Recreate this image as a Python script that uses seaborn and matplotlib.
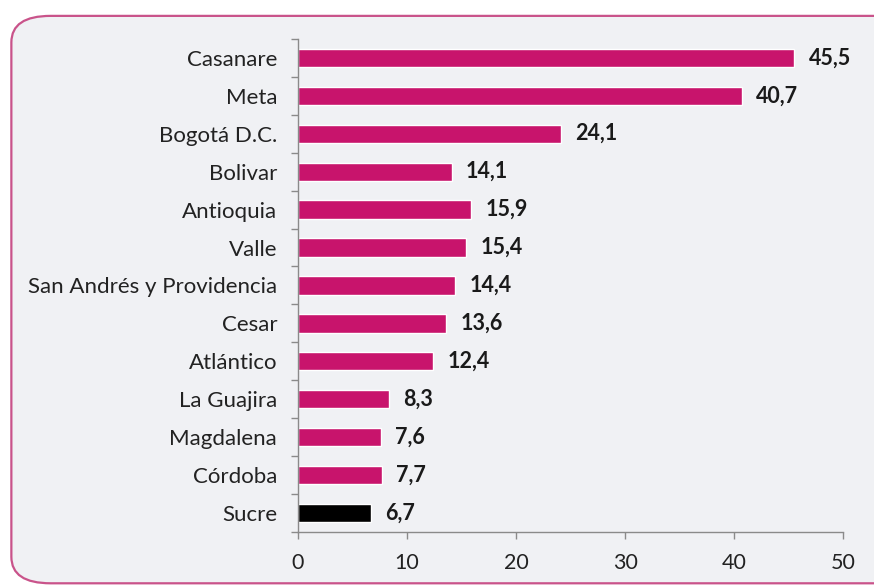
import numpy as np
import pandas as pd
import matplotlib
matplotlib.use("Agg")
import matplotlib.pyplot as plt
from matplotlib.patches import FancyBboxPatch
import seaborn as sns

CATEGORIES = ["Casanare", "Meta", "Bogotá D.C.", "Bolivar", "Antioquia", "Valle",
              "San Andrés y Providencia", "Cesar", "Atlántico", "La Guajira",
              "Magdalena", "Córdoba", "Sucre"]
VALUES = [45.5, 40.7, 24.1, 14.1, 15.9, 15.4, 14.4, 13.6, 12.4, 8.3, 7.6, 7.7, 6.7]
HIGHLIGHT = "Sucre"
XTICKS = [0, 10, 20, 30, 40, 50]

MAGENTA, BLACK = "#c8146c", "#000000"
AXIS = "#8a8a8a"

sns.set_theme(style="white")
plt.rcParams["font.family"] = ["Lato", "DejaVu Sans"]

df = pd.DataFrame({"cat": CATEGORIES, "val": VALUES})
palette = {c: (BLACK if c == HIGHLIGHT else MAGENTA) for c in CATEGORIES}

fig = plt.figure(figsize=(8.74, 5.88), dpi=100)
fig.patch.set_facecolor("white")

# rounded panel behind the chart
panel = FancyBboxPatch((0.013, 0.008), 1.05, 0.965,
                       boxstyle="round,pad=0,rounding_size=0.045",
                       transform=fig.transFigure, facecolor="#f0f1f4",
                       edgecolor="#c9538a", lw=1.6, zorder=-5)
fig.patches.append(panel)

ax = fig.add_axes([0.341, 0.095, 0.624, 0.839])
ax.set_zorder(2)
ax.set_facecolor("none")

sns.barplot(data=df, x="val", y="cat", hue="cat", palette=palette,
            legend=False, width=0.48, ax=ax, saturation=1)

for i, v in enumerate(VALUES):
    ax.text(v + 1.3, i, f"{v:.1f}".replace(".", ","), va="center", ha="left",
            fontsize=15.5, fontweight="bold", color="#1a1a1a")

ax.set_xlim(0, 50)
ax.set_ylim(len(CATEGORIES) - 0.5, -0.5)
ax.set_xticks(XTICKS)
ax.set_xticklabels([str(t) for t in XTICKS], fontsize=15.5, color="#222222")
ax.set_xlabel("")
ax.set_ylabel("")
ax.tick_params(axis="y", which="major", length=0, labelsize=16,
               labelcolor="#222222", pad=15)
ax.set_yticks(np.arange(-0.5, len(CATEGORIES), 1), minor=True)
ax.tick_params(axis="y", which="minor", length=5, color=AXIS, width=1,
               direction="out", left=True)
ax.tick_params(axis="x", length=5, color=AXIS, width=1, direction="out",
               bottom=True, pad=10)

for s in ["top", "right"]:
    ax.spines[s].set_visible(False)
for s in ["left", "bottom"]:
    ax.spines[s].set_color(AXIS)
    ax.spines[s].set_linewidth(1)
ax.grid(False)

fig.savefig("out.png", dpi=100, facecolor=fig.get_facecolor())
